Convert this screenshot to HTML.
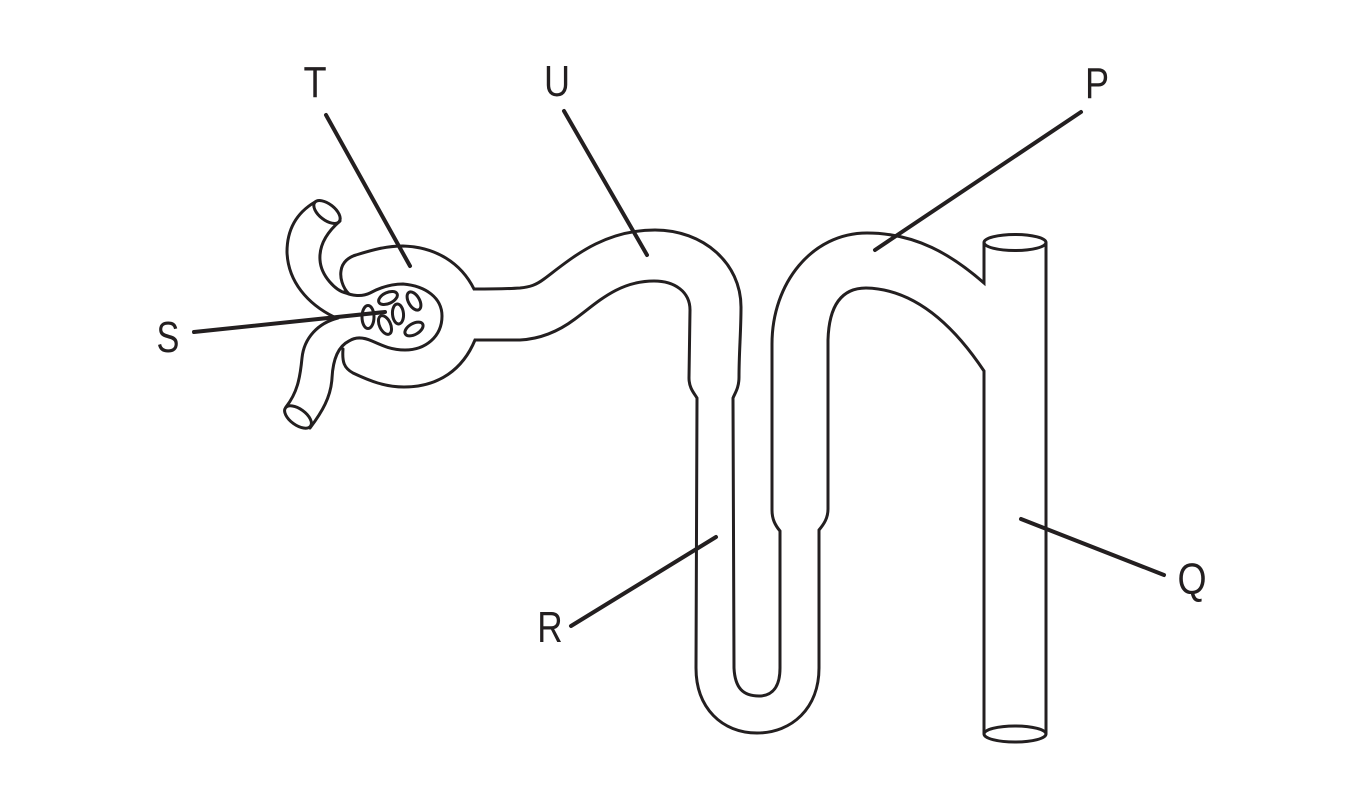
<!DOCTYPE html>
<html>
<head>
<meta charset="utf-8">
<style>
html,body{margin:0;padding:0;background:#fff;width:1372px;height:791px;overflow:hidden}
svg{display:block}
text{font-family:"Liberation Sans",sans-serif;font-size:44px;fill:#231f20;text-anchor:middle}
</style>
</head>
<body>
<svg width="1372" height="791" viewBox="0 0 1372 791" xmlns="http://www.w3.org/2000/svg">
<g fill="none" stroke="#231f20" stroke-width="3" stroke-linejoin="miter" stroke-linecap="round">
<!-- upper vessel -->
<path d="M315 202C298 212 287 228 287 252C288 282 308 304 334 317"/>
<path d="M340 221C326 233 319 246 320 260C321 276 336 291 346 293"/>
<ellipse cx="327" cy="212" rx="15.500" ry="8" transform="rotate(38 327 212)"/>
<!-- glomerulus outline + lower vessel inner -->
<path d="M344 292C352 296 362 297 370 293C381 287 391 284 403 284C426 286 442 298 442 316C442 337 425 350 405 350C391 350 381 345 372 341C363 337 355 337 349 341C339 346 333 358 332 378C331 397 322 412 310 428"/>
<!-- lower vessel outer -->
<path d="M338 318C318 323 304 338 302 358C300 379 297 393 286 407"/>
<ellipse cx="298" cy="417" rx="15.500" ry="8" transform="rotate(36 298 417)"/>
<!-- capsule + tubule, upper edge -->
<path d="M349 294C342 287 340 277 341 271C342 262 349 257 356 255C372 250 386 246 403 246C436 247 461 263 474 289C490 289 505 289 520 288C530 287 536 285 544 279C572 258 603 230 655 230C703 230 741 263 741 307C741 332 739 352 739 377C739 388 735 393 733 398L734 668C735 688 743 696 759 696C773 696 780 686 780 668L780 531C775 525 772 519 772 510L772 344C772 283 812 233 867 233C916 233 952 255 984 283L984 243"/>
<!-- capsule + tubule, lower edge -->
<path d="M343 349C342 362 344 368 353 373C370 381 385 387 404 387C439 387 463 369 475 340C490 340 505 340 520 340C540 339 559 331 575 319C597 303 618 281 654 281C675 281 690 292 690 310L689 378C689 388 694 393 697 398L696 668C696 708 722 733 757 733C792 733 819 708 819 668L819 530C824 524 828 518 828 509L828 340C829 305 842 288 866 288C917 289 956 329 984 371L984 733"/>
<path d="M1046 243V733"/>
<ellipse cx="1015" cy="242.500" rx="31" ry="8"/>
<ellipse cx="1015" cy="734" rx="31" ry="8"/>
<!-- cells -->
<ellipse cx="388" cy="298" rx="10" ry="5.500" transform="rotate(-25 388 298)"/>
<ellipse cx="414" cy="301" rx="5.500" ry="10" transform="rotate(-30 414 301)"/>
<ellipse cx="398" cy="314" rx="5.500" ry="10" transform="rotate(-5 398 314)"/>
<ellipse cx="368" cy="317" rx="6" ry="11.500"/>
<ellipse cx="385" cy="325" rx="5.500" ry="10" transform="rotate(-25 385 325)"/>
<ellipse cx="414" cy="329" rx="10" ry="5.500" transform="rotate(-30 414 329)"/>
</g>
<!-- leader lines -->
<g stroke="#231f20" stroke-width="4" stroke-linecap="round" fill="none">
<path d="M326 115L410 266"/>
<path d="M564 111L647 255"/>
<path d="M1081 112L875 250"/>
<path d="M194 332L385 312"/>
<path d="M1021 519L1164 575"/>
<path d="M716 537L571 626"/>
</g>
<text transform="translate(315 97) scale(.86 1)">T</text>
<text transform="translate(557 96) scale(.82 1)">U</text>
<text transform="translate(1097 98) scale(.82 1)">P</text>
<text transform="translate(168 352) scale(.78 1)">S</text>
<text transform="translate(1192 594) scale(.85 1)">Q</text>
<text transform="translate(550 642) scale(.8 1)">R</text>
</svg>
</body>
</html>
